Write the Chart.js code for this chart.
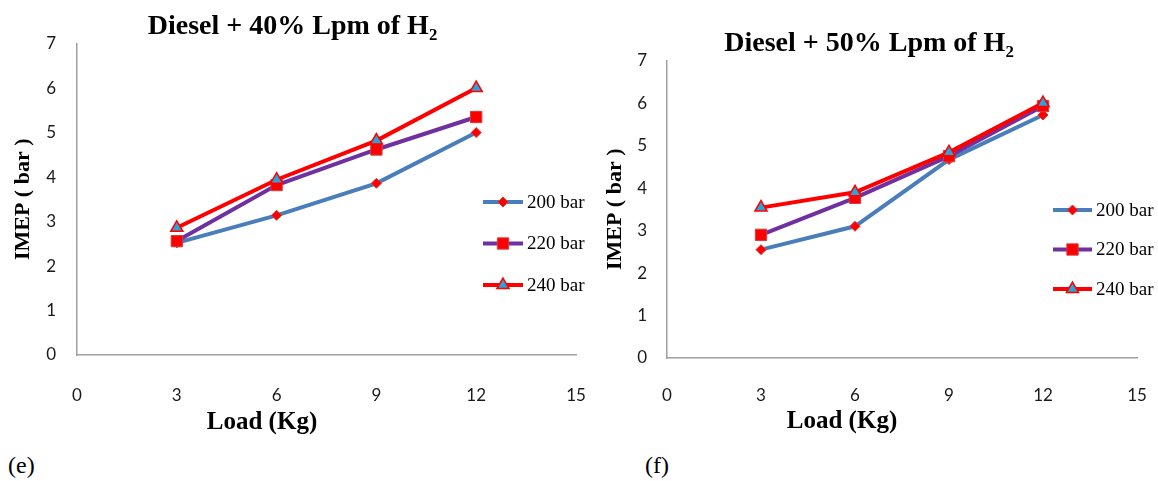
<!DOCTYPE html>
<html>
<head>
<meta charset="utf-8">
<title>IMEP vs Load</title>
<script src="https://cdn.jsdelivr.net/npm/chart.js"></script>
<style>
  body { margin: 0; background: #fff; }
  #wrap { position: relative; width: 1158px; height: 481px; overflow: hidden; }
  canvas { position: absolute; top: 0; }
  #chartE { left: 0; }
  #chartF { left: 590px; }
  .tag { position: absolute; top: 452px; font: 24px "Liberation Serif", "Times New Roman", serif; color: #000; }
</style>
</head>
<body>
<div id="wrap">
  <canvas id="chartE" width="590" height="445"></canvas>
  <canvas id="chartF" width="568" height="445"></canvas>
  <div class="tag" style="left:8px">(e)</div>
  <div class="tag" style="left:645px">(f)</div>
</div>
<script>
// load steps (Kg)
const loads = [3, 6, 9, 12];
const seriesNames = ['200 bar', '220 bar', '240 bar'];

// IMEP (bar), Diesel + 40% Lpm of H2
const imep40_200 = [2.52, 3.14, 3.86, 5.0];
const imep40_220 = [2.56, 3.82, 4.62, 5.35];
const imep40_240 = [2.86, 3.94, 4.82, 6.0];

// IMEP (bar), Diesel + 50% Lpm of H2
const imep50_200 = [2.55, 3.1, 4.67, 5.72];
const imep50_220 = [2.9, 3.77, 4.75, 5.93];
const imep50_240 = [3.54, 3.9, 4.84, 6.0];

const serif = '"Liberation Serif", "Times New Roman", serif';
const tickFont = { family: 'Lato, "Liberation Sans", sans-serif', size: 17 };

// draws the legend on top of the plot and the x axis title off-centre
const sideLegend = {
    id: 'sideLegend',
    afterDraw(chart, args, opts) {
        const ctx = chart.ctx;
        ctx.save();
        chart.data.datasets.forEach((ds, i) => {
            const y = opts.y + i * opts.gap;
            ctx.strokeStyle = ds.borderColor;
            ctx.lineWidth = ds.borderWidth;
            ctx.beginPath();
            ctx.moveTo(opts.x, y);
            ctx.lineTo(opts.x + opts.len, y);
            ctx.stroke();
            ctx.fillStyle = ds.pointBackgroundColor;
            ctx.strokeStyle = ds.pointBorderColor;
            ctx.lineWidth = ds.pointBorderWidth;
            Chart.helpers.drawPoint(ctx, {
                pointStyle: ds.pointStyle,
                radius: ds.pointRadius,
                borderWidth: ds.pointBorderWidth,
                rotation: 0
            }, opts.x + opts.len / 2, y);
            ctx.fillStyle = '#000';
            ctx.font = '19px ' + serif;
            ctx.textAlign = 'left';
            ctx.textBaseline = 'middle';
            ctx.fillText(ds.label, opts.x + opts.len + 4, y + 1);
        });
        ctx.font = 'bold 25px ' + serif;
        ctx.textAlign = 'center';
        ctx.textBaseline = 'middle';
        ctx.fillStyle = '#000';
        ctx.fillText('Load (Kg)', opts.titleX, opts.titleY);
        ctx.restore();
    }
};

function makeDatasets(v200, v220, v240) {
    const pts = vals => loads.map((x, i) => ({ x: x, y: vals[i] }));
    return [{
        label: seriesNames[0],
        data: pts(v200),
        borderColor: '#4a7ebb',
        borderWidth: 4,
        pointStyle: 'rectRot',
        pointRadius: 5,
        pointBackgroundColor: '#ff0000',
        pointBorderColor: '#e03030',
        pointBorderWidth: 1,
        order: 3
    }, {
        label: seriesNames[1],
        data: pts(v220),
        borderColor: '#7030a0',
        borderWidth: 4,
        pointStyle: 'rect',
        pointRadius: 8,
        pointBackgroundColor: '#ff0000',
        pointBorderColor: '#d04040',
        pointBorderWidth: 1,
        order: 2
    }, {
        label: seriesNames[2],
        data: pts(v240),
        borderColor: '#ff0000',
        borderWidth: 4,
        pointStyle: 'triangle',
        pointRadius: 7,
        pointBackgroundColor: '#2aa3d6',
        pointBorderColor: '#ff0000',
        pointBorderWidth: 1.5,
        order: 1
    }];
}

function makeConfig(title, datasets, c) {
    return {
        type: 'line',
        data: { datasets: datasets },
        plugins: [sideLegend],
        options: {
            responsive: false,
            animation: false,
            devicePixelRatio: 1,
            layout: { padding: { left: c.padLeft, right: c.padRight, top: 0, bottom: 0 } },
            elements: { line: { tension: 0 } },
            plugins: {
                legend: { display: false },
                tooltip: { enabled: false },
                title: {
                    display: true,
                    text: title,
                    color: '#000',
                    font: { family: serif, size: 28, weight: 'bold' },
                    padding: { top: c.titleTop, bottom: 0 }
                },
                sideLegend: c.legend
            },
            scales: {
                x: {
                    type: 'linear',
                    min: 0,
                    max: 15,
                    ticks: { stepSize: 3, padding: c.xTickPad, color: '#1a1a1a', font: tickFont },
                    grid: { display: false, drawTicks: false },
                    border: { color: '#a0a0a0', width: 1.5 },
                    afterFit: s => {
                        s.height = c.xHeight;
                        // the big label gap should not eat into the plot width
                        s.paddingLeft = 0;
                        s.paddingRight = 0;
                    }
                },
                y: {
                    min: 0,
                    max: 7,
                    ticks: { stepSize: 1, padding: c.yTickPad, color: '#1a1a1a', font: tickFont },
                    grid: { display: false, drawTicks: false },
                    border: { color: '#a0a0a0', width: 1.5 },
                    title: {
                        display: true,
                        text: 'IMEP ( bar )',
                        color: '#000',
                        font: { family: serif, size: 22, weight: 'bold' },
                        padding: { top: 1, bottom: 0 }
                    },
                    afterFit: s => { s.width = c.yWidth; }
                }
            }
        }
    };
}

const chartE = new Chart(
    document.getElementById('chartE'),
    makeConfig('Diesel + 40% Lpm of H\u2082',
        makeDatasets(imep40_200, imep40_220, imep40_240),
        {
            padLeft: 9, padRight: 14, titleTop: 10, yWidth: 68, xHeight: 90,
            xTickPad: 30, yTickPad: 21,
            legend: { x: 483, y: 202, gap: 41.5, len: 40, titleX: 262, titleY: 423 }
        })
);

const chartF = new Chart(
    document.getElementById('chartF'),
    makeConfig('Diesel + 50% Lpm of H\u2082',
        makeDatasets(imep50_200, imep50_220, imep50_240),
        {
            padLeft: 11, padRight: 21, titleTop: 27, yWidth: 66, xHeight: 87,
            xTickPad: 27, yTickPad: 20,
            legend: { x: 463, y: 210, gap: 39.5, len: 39, titleX: 252, titleY: 422 }
        })
);
</script>
</body>
</html>
